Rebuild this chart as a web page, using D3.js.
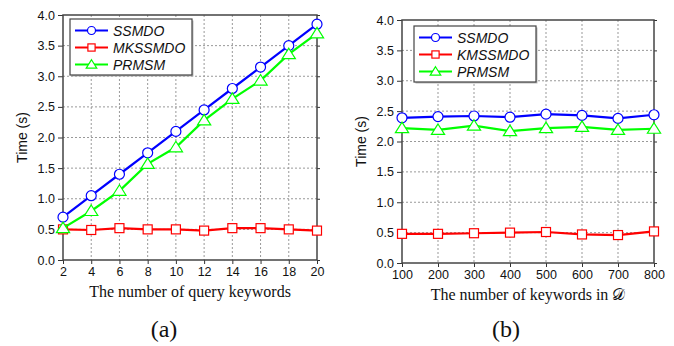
<!DOCTYPE html>
<html>
<head>
<meta charset="utf-8">
<script src="https://cdn.jsdelivr.net/npm/d3@7"></script>
<style>
  body { margin: 0; background: #fff; }
  .tick text { font-family: "Liberation Sans", Arial, sans-serif; font-size: 12.5px; fill: #111; }
  .axisTitle { font-family: "Liberation Serif", "Times New Roman", serif; font-size: 16px; fill: #111; }
  .yTitle { font-family: "Liberation Sans", Arial, sans-serif; font-size: 14px; fill: #111; }
  .legendText { font-family: "Liberation Sans", Arial, sans-serif; font-style: italic; font-size: 14px; fill: #111; }
  .caption { font-family: "Liberation Serif", "Times New Roman", serif; font-size: 24px; fill: #111; }
</style>
</head>
<body>
<div id="chart"></div>
<script>
// Data for panel (a)
var keywordsA = [2, 4, 6, 8, 10, 12, 14, 16, 18, 20];
var ssmdoA = [0.70, 1.05, 1.40, 1.75, 2.10, 2.45, 2.80, 3.15, 3.50, 3.85];
var mkssmdoA = [0.50, 0.49, 0.52, 0.50, 0.50, 0.48, 0.52, 0.52, 0.50, 0.48];
var prmsmA = [0.52, 0.80, 1.13, 1.57, 1.84, 2.28, 2.63, 2.93, 3.36, 3.70];

// Data for panel (b)
var keywordsB = [100, 200, 300, 400, 500, 600, 700, 800];
var ssmdoB = [2.39, 2.41, 2.42, 2.40, 2.45, 2.43, 2.38, 2.44];
var kmssmdoB = [0.48, 0.48, 0.49, 0.50, 0.51, 0.47, 0.46, 0.52];
var prmsmB = [2.22, 2.19, 2.26, 2.17, 2.22, 2.24, 2.19, 2.21];

var yTicks = [0, 0.5, 1.0, 1.5, 2.0, 2.5, 3.0, 3.5, 4.0];

var svgWidth = 674, svgHeight = 346;
var svg = d3.select("#chart").append("svg")
    .attr("width", svgWidth)
    .attr("height", svgHeight);

var blue = "#0000ff", red = "#ff0000", green = "#00ff00";

function drawMarker(g, shape, color, x, y, k) {
  k = k || 1;
  if (shape === "circle") {
    g.append("circle").attr("cx", x).attr("cy", y).attr("r", 5 * k)
      .attr("fill", "#fff").attr("stroke", color).attr("stroke-width", 1.2);
  } else if (shape === "square") {
    var h = 4.5 * k;
    g.append("rect").attr("x", x - h).attr("y", y - h).attr("width", 2 * h).attr("height", 2 * h)
      .attr("fill", "#fff").attr("stroke", color).attr("stroke-width", 1.2);
  } else {
    var s = 6 * k;
    g.append("path")
      .attr("d", `M${x},${y - s} L${x + s * 1.1},${y + s * 0.75} L${x - s * 1.1},${y + s * 0.75} Z`)
      .attr("fill", "#fff").attr("stroke", color).attr("stroke-width", 1.2);
  }
}

function panel(opts) {
  var m = opts.box;
  var w = m.right - m.left, h = m.bottom - m.top;
  var g = svg.append("g").attr("transform", `translate(${m.left}, ${m.top})`);

  var x = d3.scaleLinear().domain(d3.extent(opts.xs)).range([0, w]);
  var y = d3.scaleLinear().domain([0, 4]).range([h, 0]);

  // grid
  g.selectAll("line.gx").data(opts.xs.slice(1, -1)).enter().append("line")
    .attr("x1", d => x(d)).attr("x2", d => x(d)).attr("y1", 0).attr("y2", h)
    .attr("stroke", "#999").attr("stroke-dasharray", "2,2").attr("stroke-width", 1);
  g.selectAll("line.gy").data(yTicks.slice(1, -1)).enter().append("line")
    .attr("y1", d => y(d)).attr("y2", d => y(d)).attr("x1", 0).attr("x2", w)
    .attr("stroke", "#999").attr("stroke-dasharray", "2,2").attr("stroke-width", 1);

  // axes
  var bottomAxis = d3.axisBottom(x).tickValues(opts.xs).tickFormat(d3.format("d")).tickSizeInner(4).tickSizeOuter(0).tickPadding(3);
  var leftAxis = d3.axisLeft(y).tickValues(yTicks).tickFormat(d3.format(".1f")).tickSizeInner(5).tickSizeOuter(0).tickPadding(3);
  var gx = g.append("g").attr("transform", `translate(0, ${h})`).call(bottomAxis);
  var gy = g.append("g").call(leftAxis);
  [gx, gy].forEach(a => { a.select(".domain").remove(); a.selectAll("line").attr("stroke", "#333"); });

  var rightAxis = d3.axisRight(y).tickValues(yTicks).tickSizeInner(3).tickSizeOuter(0).tickFormat("");
  var gr = g.append("g").attr("transform", `translate(${w}, 0)`).call(rightAxis);
  gr.select(".domain").remove();
  gr.selectAll("line").attr("stroke", "#333");

  g.append("rect").attr("width", w).attr("height", h)
    .attr("fill", "none").attr("stroke", "#444").attr("stroke-width", 1.5);

  // series
  var line = d3.line().x((d, i) => x(opts.xs[i])).y(d => y(d));
  opts.series.forEach(function(s) {
    g.append("path").datum(s.values).attr("d", line)
      .attr("fill", "none").attr("stroke", s.color).attr("stroke-width", 2.2);
    s.values.forEach(function(v, i) { drawMarker(g, s.shape, s.color, x(opts.xs[i]), y(v)); });
  });

  // legend
  var L = opts.legend;
  var lg = svg.append("g").attr("transform", `translate(${L.x}, ${L.y})`);
  lg.append("rect").attr("x", 1.5).attr("y", 1.5).attr("width", L.w).attr("height", 56).attr("fill", "#bbb");
  lg.append("rect").attr("width", L.w).attr("height", 56).attr("fill", "#fff").attr("stroke", "#444").attr("stroke-width", 1.2);
  opts.series.forEach(function(s, i) {
    var yy = 11.5 + i * 17;
    lg.append("line").attr("x1", 5).attr("x2", 38).attr("y1", yy).attr("y2", yy)
      .attr("stroke", s.color).attr("stroke-width", 2.2);
    drawMarker(lg, s.shape, s.color, 21.5, yy, 0.8);
    lg.append("text").attr("class", "legendText").attr("x", 43).attr("y", yy + 5).text(s.name);
  });

  // titles
  svg.append("text").attr("class", "yTitle")
    .attr("transform", `translate(${m.left - 36}, ${(m.top + m.bottom) / 2}) rotate(-90)`)
    .attr("text-anchor", "middle").text("Time (s)");
  svg.append("text").attr("class", "axisTitle")
    .attr("x", (m.left + m.right) / 2).attr("y", m.bottom + 37)
    .attr("text-anchor", "middle").text(opts.xTitle);
  svg.append("text").attr("class", "caption")
    .attr("x", opts.captionX).attr("y", 337)
    .attr("text-anchor", "middle").text(opts.caption);
}

panel({
  box: { left: 63, right: 317, top: 15, bottom: 260 },
  xs: keywordsA,
  series: [
    { name: "SSMDO", values: ssmdoA, color: blue, shape: "circle" },
    { name: "MKSSMDO", values: mkssmdoA, color: red, shape: "square" },
    { name: "PRMSM", values: prmsmA, color: green, shape: "triangle" }
  ],
  legend: { x: 70, y: 19, w: 122 },
  xTitle: "The number of query keywords",
  caption: "(a)",
  captionX: 164
});

panel({
  box: { left: 402, right: 654, top: 20, bottom: 263 },
  xs: keywordsB,
  series: [
    { name: "SSMDO", values: ssmdoB, color: blue, shape: "circle" },
    { name: "KMSSMDO", values: kmssmdoB, color: red, shape: "square" },
    { name: "PRMSM", values: prmsmB, color: green, shape: "triangle" }
  ],
  legend: { x: 414, y: 26, w: 122 },
  xTitle: "The number of keywords in 𝒟",
  caption: "(b)",
  captionX: 506
});
</script>
</body>
</html>
